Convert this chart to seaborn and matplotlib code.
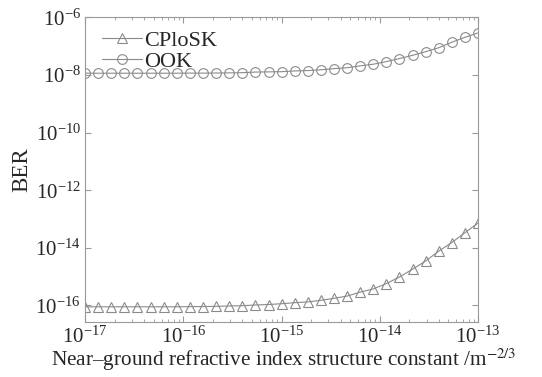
import numpy as np
import pandas as pd
import seaborn as sns
import matplotlib
matplotlib.use("Agg")
import matplotlib.pyplot as plt
from matplotlib.ticker import NullFormatter, FixedLocator

sns.set_style("ticks")
plt.rcParams['font.family'] = ['Liberation Serif', 'DejaVu Serif']
plt.rcParams['mathtext.fontset'] = 'stix'

# x grid: exponents of Cn^2 (m^-2/3)
cn2_exp = [-17.0, -16.867, -16.733, -16.6, -16.467, -16.333, -16.2, -16.067,
           -15.933, -15.8, -15.667, -15.533, -15.4, -15.267, -15.133, -15.0,
           -14.867, -14.733, -14.6, -14.467, -14.333, -14.2, -14.067, -13.933,
           -13.8, -13.667, -13.533, -13.4, -13.267, -13.133, -13.0]

ber_cplosk = [9.0e-17, 9.0e-17, 9.0e-17, 9.0e-17, 9.0e-17, 9.0e-17, 9.0e-17,
              9.0e-17, 9.1e-17, 9.2e-17, 9.3e-17, 9.6e-17, 9.8e-17, 1.04e-16,
              1.08e-16, 1.15e-16, 1.25e-16, 1.33e-16, 1.51e-16, 1.77e-16,
              2.12e-16, 2.9e-16, 3.76e-16, 5.75e-16, 9.7e-16, 1.82e-15,
              3.5e-15, 7.7e-15, 1.53e-14, 3.37e-14, 7.24e-14]

ber_ook = [1.15e-8, 1.15e-8, 1.15e-8, 1.15e-8, 1.15e-8, 1.15e-8, 1.15e-8,
           1.15e-8, 1.16e-8, 1.16e-8, 1.17e-8, 1.18e-8, 1.2e-8, 1.26e-8,
           1.28e-8, 1.3e-8, 1.38e-8, 1.42e-8, 1.51e-8, 1.66e-8, 1.78e-8,
           2.07e-8, 2.36e-8, 2.92e-8, 3.71e-8, 4.81e-8, 6.43e-8, 8.81e-8,
           1.37e-7, 2.03e-7, 2.87e-7]

x_ticks = [1e-17, 1e-16, 1e-15, 1e-14, 1e-13]
y_ticks = [1e-16, 1e-14, 1e-12, 1e-10, 1e-8, 1e-6]

cn2 = [10.0 ** e for e in cn2_exp]
df = pd.DataFrame({"Cn2": cn2 * 2,
                   "BER": ber_cplosk + ber_ook,
                   "scheme": ["CPloSK"] * len(cn2) + ["OOK"] * len(cn2)})

gray = "#8a8a8a"
fig = plt.figure(figsize=(5.42, 3.77), dpi=100)
ax = fig.add_axes([0.157, 0.145, 0.725, 0.809])

for name, mk in [("CPloSK", "^"), ("OOK", "o")]:
    sub = df[df["scheme"] == name]
    sns.lineplot(data=sub, x="Cn2", y="BER", ax=ax, color=gray, lw=0.8,
                 marker=mk, markersize=7, markerfacecolor="none",
                 markeredgecolor=gray, markeredgewidth=0.8, label=name)

ax.set_xscale("log")
ax.set_yscale("log")
ax.set_xlim(1e-17, 1e-13)
ax.set_ylim(2.6e-17, 1e-6)
ax.yaxis.set_major_locator(FixedLocator(y_ticks))
ax.yaxis.set_minor_locator(FixedLocator([]))
ax.xaxis.set_major_locator(FixedLocator(x_ticks))
minor_x = [m * t for t in x_ticks[:-1] for m in range(2, 10)]
ax.xaxis.set_minor_locator(FixedLocator(minor_x))
ax.xaxis.set_minor_formatter(NullFormatter())

for s in ax.spines.values():
    s.set_color("#999999")
    s.set_linewidth(0.8)
ax.tick_params(which="both", direction="in", top=True, right=True,
               color="#999999", labelsize=15, pad=3)
ax.tick_params(which="major", length=4)
ax.tick_params(which="minor", length=2.5)

ax.set_xlabel("Near\u2013ground refractive index structure constant /m$^{-2/3}$",
              fontsize=15.3, labelpad=0)
ax.xaxis.set_label_coords(0.505, -0.079)
ax.set_ylabel("BER", fontsize=16.5, labelpad=2)

leg = ax.legend(loc="upper left", frameon=False, fontsize=16,
                handlelength=1.8, handletextpad=0.1, labelspacing=0.0,
                borderaxespad=0.2, bbox_to_anchor=(0.01, 1.0))

fig.savefig("out.png", dpi=100)
